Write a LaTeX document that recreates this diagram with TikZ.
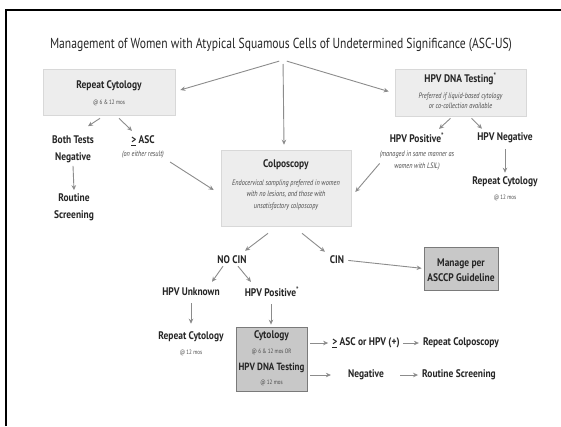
\documentclass[tikz,border=0pt]{standalone}
\usepackage{fontspec}
\setmainfont{PT Sans}[FakeStretch=0.8]
\newfontfamily\lblfont{PT Sans}[FakeStretch=0.86]
\usetikzlibrary{arrows.meta,calc}
\definecolor{ink}{HTML}{262626}
\definecolor{noteink}{HTML}{4A4A4A}
\definecolor{arrowgray}{HTML}{8C8C8C}
\definecolor{paleFill}{HTML}{EDEDED}
\definecolor{paleEdge}{HTML}{D8D8D8}
\definecolor{greyFill}{HTML}{C8C8C8}
\definecolor{greyEdge}{HTML}{7A7A7A}
\begin{document}
\begin{tikzpicture}[x=1pt,y=-1pt,
  lbl/.style={font=\lblfont\bfseries\fontsize{11}{12}\selectfont, text=ink, align=center, inner sep=0pt},
  note/.style={font=\itshape\fontsize{7.8}{12}\selectfont, text=noteink, align=center, inner sep=0pt},
  sub/.style={font=\fontsize{6.3}{8}\selectfont, text=noteink, inner sep=0pt},
  palebox/.style={fill=paleFill, draw=paleEdge, line width=0.6pt},
  greybox/.style={fill=greyFill, draw=greyEdge, line width=0.8pt},
  arr/.style={draw=arrowgray, line width=0.9pt, -{Stealth[length=5pt,width=4.5pt]}}]
\useasboundingbox (0,0) rectangle (561,426);
\fill[white] (0,0) rectangle (561,426);
% frame edges
\draw[line width=2pt] (6,426) -- (6,10) -- (561,10);

% title
\node[font=\fontsize{14.5}{17}\selectfont, text=ink, inner sep=0pt] (title) at (281,45)
  {Management of Women with Atypical Squamous Cells of Undetermined Significance (ASC-US)};
\coordinate (top) at (283,60);

% boxes
\node[palebox, minimum width=132pt, minimum height=46pt] (rc) at (109,92) {};
\node[lbl] (rct) at (109,86) {Repeat Cytology};
\node[sub] (rcs) at (109,103) {@ 6 \& 12 mos};

\node[palebox, minimum width=131pt, minimum height=47pt] (hpv) at (460.5,92.5) {};
\node[lbl] (hpvt) at (460.5,79) {HPV DNA Testing\textsuperscript{*}};
\node[note] (hpvn) at (460.5,101) {Preferred if liquid-based cytology\\[-2.5pt]or co-collection available};

\node[palebox, minimum width=130pt, minimum height=76pt] (colp) at (286,188) {};
\node[lbl] (colpt) at (286,165) {Colposcopy};
\node[note] (colpn) at (286,195) {Endocervical sampling preferred in women\\[-0.5pt]with no lesions, and those with\\[-0.5pt]unsatisfactory colposcopy};

\node[greybox, minimum width=74pt, minimum height=43pt] (mng) at (461,268.5) {};
\node[lbl, font=\lblfont\bfseries\fontsize{11}{15}\selectfont] (mngt) at (461,270.5) {Manage per\\ASCCP Guideline};

\node[greybox, minimum width=71pt, minimum height=64pt] (cyt) at (271.5,359) {};
\node[lbl] (cyt1) at (271.5,336) {Cytology};
\node[sub] (cyt2) at (271.5,352) {@ 6 \& 12 mos OR};
\node[lbl, font=\lblfont\bfseries\fontsize{10.5}{12}\selectfont] (cyt3) at (271.5,367.5) {HPV DNA Testing};
\node[sub] (cyt4) at (271.5,383) {@ 12 mos};

% free labels
\node[lbl, font=\lblfont\bfseries\fontsize{11}{17}\selectfont] (btn) at (73,149) {Both Tests\\Negative};
\node[lbl] (asc) at (143,141) {\underline{>} ASC};
\node[note] (ascn) at (143,155) {(on either result)};
\node[lbl, font=\lblfont\bfseries\fontsize{11}{17}\selectfont] (rs1) at (74,207) {Routine\\Screening};

\node[lbl] (hpvpos) at (417,138) {HPV Positive\textsuperscript{*}};
\node[note] (hpvposn) at (417,160.5) {(managed in same manner as\\[-0.5pt]women with LSIL)};
\node[lbl] (hpvneg) at (505,138) {HPV Negative};
\node[lbl] (rc2) at (505,182) {Repeat Cytology};
\node[sub] (rc2s) at (505,198) {@ 12 mos};

\node[lbl] (nocin) at (232,260) {NO CIN};
\node[lbl] (cin) at (337,260) {CIN};
\node[lbl] (hpvunk) at (191,292) {HPV Unknown};
\node[lbl] (hpvpos2) at (272,292) {HPV Positive\textsuperscript{*}};
\node[lbl] (rc3) at (191,337) {Repeat Cytology};
\node[sub] (rc3s) at (191,353) {@ 12 mos};

\node[lbl] (ascor) at (366,343) {\underline{>} ASC or HPV (+)};
\node[lbl] (repcolp) at (461,343) {Repeat Colposcopy};
\node[lbl] (neg) at (366,375) {Negative};
\node[lbl] (rscr) at (459,375) {Routine Screening};

% connectors
\draw[arr, shorten <=4pt] (top) -- ($(rc.east)+(5,-2)$);
\draw[arr, shorten <=4pt] (top) -- ($(colp.north)+(-2,-5)$);
\draw[arr, shorten <=4pt] (top) -- ($(hpv.west)+(-6,-1)$);

\draw[arr] ($(rc.south)+(-9,3)$) -- ($(btn.north)+(15,-9)$);
\draw[arr] ($(rc.south)+(10,3)$) -- ($(asc.north)+(-11,-5)$);
\draw[arr] ($(btn.south)+(0,3)$) -- ($(rs1.north)+(0,-3)$);
\draw[arr] ($(ascn.east)+(6,7)$) -- ($(colp.west)+(-7,2)$);

\draw[arr] ($(hpv.south)+(-10,2)$) -- ($(hpvpos.north)+(22,-4)$);
\draw[arr] ($(hpv.south)+(11,2)$) -- ($(hpvneg.north)+(-23,-4)$);
\draw[arr] ($(hpvposn.west)+(0,3)$) -- ($(colp.east)+(4,4)$);
\draw[arr] ($(hpvneg.south)+(0,6)$) -- ($(rc2.north)+(0,-4)$);

\draw[arr] ($(colp.south)+(-18,7)$) -- ($(nocin.north)+(13,-5)$);
\draw[arr] ($(colp.south)+(16,7)$) -- ($(cin.north)+(-12,-4)$);
\draw[arr, shorten <=4pt, shorten >=2pt] (cin.east) -- (mng.west);

\draw[arr] ($(nocin.south)+(-9,2)$) -- ($(hpvunk.north)+(21,-6)$);
\draw[arr] ($(nocin.south)+(6,2)$) -- ($(hpvpos2.north)+(-21,-5)$);
\draw[arr] ($(hpvunk.south)+(0,7)$) -- ($(rc3.north)+(0,-8)$);
\draw[arr] ($(hpvpos2.south)+(-1,7)$) -- ($(cyt.north)+(-0.5,-2)$);

\draw[arr, shorten <=3pt, shorten >=4pt] (cyt.east |- ascor) -- (ascor.west);
\draw[arr, shorten <=3pt, shorten >=4pt] (ascor.east |- ascor) -- (repcolp.west);
\draw[arr, shorten <=3pt] (cyt.east |- neg) -- ($(neg.west)+(-17,0)$);
\draw[arr, shorten >=4pt] ($(neg.east)+(16,0)$) -- (rscr.west);
\end{tikzpicture}
\end{document}
